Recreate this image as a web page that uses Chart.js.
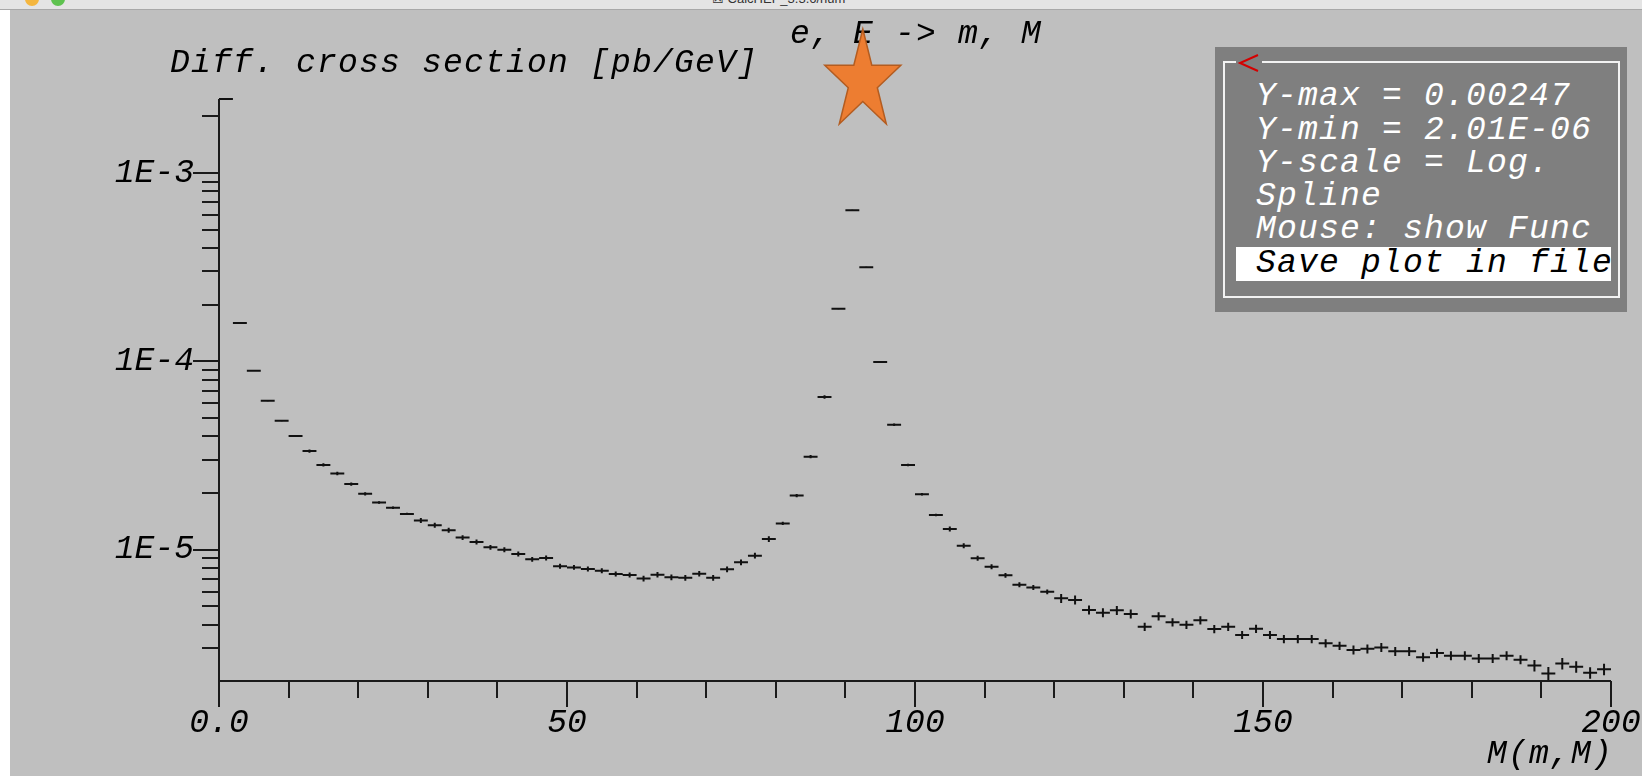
<!DOCTYPE html>
<html>
<head>
<meta charset="utf-8">
<script src="https://cdn.jsdelivr.net/npm/chart.js@4.4.1/dist/chart.umd.min.js"></script>
<style>
  body { margin:0; width:1642px; height:776px; overflow:hidden; background:#fff; position:relative; }
  #fond { position:absolute; left:10px; top:10px; width:1632px; height:766px; background:#bfbfbf; }
  #barre { position:absolute; left:0; top:0; width:1642px; height:9px; background:#e4e4e4; border-bottom:1px solid #a8a8a8; overflow:hidden; }
  .feu { position:absolute; top:-8px; width:14px; height:14px; border-radius:50%; }
  #titreFenetre { position:absolute; left:712px; top:-9px; font:13px 'Liberation Sans', sans-serif; color:#333; white-space:nowrap; }
  canvas { position:absolute; left:0; top:0; }
  #menu { position:absolute; left:1215px; top:47px; width:412px; height:265px; background:#7f7f7f; }
  #cadre { position:absolute; left:1223px; top:61px; width:397px; height:237px; border:2px solid #f2f2f2; box-sizing:border-box; }
  #surbrillance { position:absolute; left:1236px; top:247px; width:375px; height:34px; background:#fff; }
  .ligne { position:absolute; left:1256px; height:34px; line-height:34px; font-family:'Liberation Mono', monospace; font-style:italic; font-size:33px; letter-spacing:1.2px; color:#fff; white-space:nowrap; }
  #retour { position:absolute; left:1234px; top:52px; }
</style>
</head>
<body>
<div id="fond"></div>
<div id="barre">
  <div class="feu" style="left:25px;background:#f4b63f"></div>
  <div class="feu" style="left:51px;background:#5ec24f"></div>
  <div id="titreFenetre">&#9746; CalcHEP_3.3.6/num</div>
</div>
<canvas id="myChart" width="1642" height="776"></canvas>
<div id="menu"></div>
<div id="cadre"></div>
<svg id="retour" width="30" height="22">
  <rect x="2" y="7" width="26" height="6" fill="#7f7f7f"/>
  <polyline points="24,3 6,11 24,19" fill="none" stroke="#d40000" stroke-width="2"/>
</svg>
<div id="surbrillance"></div>
<div id="lignesMenu"></div>

<script>
// bins de 2 GeV entre 0 et 200
const masseMin = 0;
const masseMax = 200;
const largeurBin = 2;

// section efficace differentielle [pb/GeV], un point par bin
const sectionEff = [
  2.47e-3, 1.60e-4, 8.92e-5, 6.18e-5, 4.84e-5, 4.02e-5, 3.34e-5, 2.82e-5, 2.54e-5, 2.23e-5,
  1.98e-5, 1.78e-5, 1.67e-5, 1.55e-5, 1.43e-5, 1.35e-5, 1.27e-5, 1.16e-5, 1.10e-5, 1.03e-5,
  1.00e-5, 9.49e-6, 8.89e-6, 9.04e-6, 8.17e-6, 8.06e-6, 7.90e-6, 7.74e-6, 7.43e-6, 7.34e-6,
  7.03e-6, 7.37e-6, 7.14e-6, 7.10e-6, 7.46e-6, 7.10e-6, 7.87e-6, 8.57e-6, 9.30e-6, 1.14e-5,
  1.38e-5, 1.94e-5, 3.12e-5, 6.47e-5, 1.90e-4, 6.34e-4, 3.16e-4, 9.92e-5, 4.61e-5, 2.82e-5,
  1.97e-5, 1.53e-5, 1.29e-5, 1.05e-5, 9.01e-6, 8.13e-6, 7.31e-6, 6.52e-6, 6.31e-6, 5.98e-6,
  5.52e-6, 5.41e-6, 4.79e-6, 4.63e-6, 4.77e-6, 4.56e-6, 3.90e-6, 4.43e-6, 4.12e-6, 4.00e-6,
  4.22e-6, 3.79e-6, 3.90e-6, 3.53e-6, 3.81e-6, 3.53e-6, 3.36e-6, 3.36e-6, 3.36e-6, 3.19e-6,
  3.09e-6, 2.94e-6, 2.98e-6, 3.03e-6, 2.89e-6, 2.89e-6, 2.69e-6, 2.83e-6, 2.74e-6, 2.74e-6,
  2.65e-6, 2.65e-6, 2.74e-6, 2.61e-6, 2.43e-6, 2.20e-6, 2.49e-6, 2.39e-6, 2.22e-6, 2.32e-6
];

// erreur relative (demi-barre) de chaque bin
const erreurRel = [
  0.005, 0.005, 0.005, 0.005, 0.005, 0.005, 0.02, 0.02, 0.02, 0.02,
  0.02, 0.015, 0.015, 0.015, 0.03, 0.03, 0.03, 0.03, 0.03, 0.03,
  0.03, 0.03, 0.03, 0.03, 0.03, 0.03, 0.03, 0.03, 0.03, 0.03,
  0.035, 0.035, 0.035, 0.035, 0.035, 0.035, 0.035, 0.035, 0.035, 0.035,
  0.02, 0.02, 0.02, 0.02, 0.005, 0.005, 0.005, 0.005, 0.015, 0.015,
  0.015, 0.015, 0.03, 0.03, 0.03, 0.03, 0.03, 0.03, 0.03, 0.03,
  0.055, 0.055, 0.055, 0.055, 0.055, 0.055, 0.05, 0.05, 0.05, 0.05,
  0.05, 0.05, 0.05, 0.05, 0.05, 0.05, 0.05, 0.05, 0.05, 0.05,
  0.05, 0.055, 0.055, 0.055, 0.055, 0.055, 0.055, 0.055, 0.055, 0.055,
  0.055, 0.055, 0.055, 0.055, 0.07, 0.085, 0.07, 0.07, 0.07, 0.07
];

const yMin = 2.01e-6;
const yMax = 0.00247;

// graduations
const xTickValues = [0, 50, 100, 150, 200];
const xTickLabels = ['0.0', '50', '100', '150', '200'];
const yMajorValues = [1e-5, 1e-4, 1e-3];
const yMajorLabels = ['1E-5', '1E-4', '1E-3'];

const titreY = 'Diff. cross section [pb/GeV]';
const titreProcessus = 'e, E -> m, M';
const titreX = 'M(m,M)';

const lignesMenu = ['Y-max = 0.00247', 'Y-min = 2.01E-06', 'Y-scale = Log.', 'Spline', 'Mouse: show Func', 'Save plot in file'];

// menu en texte HTML
const centresMenu = [97, 131, 164, 197, 230, 264];
lignesMenu.forEach((t, i) => {
  const d = document.createElement('div');
  d.className = 'ligne';
  d.style.top = (centresMenu[i] - 17) + 'px';
  if (i === lignesMenu.length - 1) d.style.color = '#000';
  d.textContent = t;
  document.getElementById('lignesMenu').appendChild(d);
});

// segments horizontaux (un par bin) et barres d'erreur
const segments = [];
const barres = [];
sectionEff.forEach((v, i) => {
  const x0 = masseMin + i * largeurBin;
  segments.push({x: x0, y: v}, {x: x0 + largeurBin, y: v}, {x: x0 + largeurBin, y: null});
  const c = x0 + largeurBin / 2;
  barres.push({x: c, y: v * (1 - erreurRel[i])}, {x: c, y: v * (1 + erreurRel[i])}, {x: c, y: null});
});

// graduations mineures 2..9 x 10^k dans la plage
const yTicks = [];
for (let k = -6; k <= -3; k++) {
  for (let m = 1; m <= 9; m++) {
    const v = m * Math.pow(10, k);
    if (v >= yMin && v <= yMax) yTicks.push(v);
  }
}

const police = "'Liberation Mono', monospace";

const dessinAxes = {
  id: 'dessinAxes',
  afterDatasetsDraw(chart) {
    const ctx = chart.ctx;
    const a = chart.chartArea;
    const xs = chart.scales.x;
    const ys = chart.scales.y;
    ctx.save();
    ctx.strokeStyle = '#1a1a1a';
    ctx.lineWidth = 2;
    ctx.beginPath();
    ctx.moveTo(a.left, a.top);
    ctx.lineTo(a.left, a.bottom);
    ctx.moveTo(a.left, a.bottom);
    ctx.lineTo(a.right, a.bottom);
    xs.ticks.forEach(t => {
      const px = Math.round(xs.getPixelForValue(t.value));
      const len = xTickValues.includes(t.value) ? 26 : 17;
      ctx.moveTo(px, a.bottom);
      ctx.lineTo(px, a.bottom + len);
    });
    ys.ticks.forEach(t => {
      const py = Math.round(ys.getPixelForValue(t.value));
      const len = t.major ? 26 : 17;
      ctx.moveTo(a.left - len, py);
      ctx.lineTo(a.left, py);
    });
    ctx.stroke();
    ctx.restore();
  },
  afterDraw(chart) {
    const ctx = chart.ctx;
    ctx.save();
    ctx.fillStyle = '#000';
    ctx.font = 'italic 33px ' + police;
    ctx.letterSpacing = '1.2px';
    ctx.textBaseline = 'middle';
    ctx.textAlign = 'left';
    ctx.fillText(titreY, 170, 63);
    ctx.fillText(titreProcessus, 790, 34);
    ctx.textAlign = 'right';
    ctx.fillText(titreX, 1613, 754);

    // etoile orange
    const cx = 862.8, cy = 81.5, rx = 40, ry = 52.5, ratio = 0.382;
    ctx.beginPath();
    for (let i = 0; i < 10; i++) {
      const ang = -Math.PI / 2 + i * Math.PI / 5;
      const f = i % 2 === 0 ? 1 : ratio;
      const px = cx + rx * f * Math.cos(ang);
      const py = cy + ry * f * Math.sin(ang);
      if (i === 0) ctx.moveTo(px, py); else ctx.lineTo(px, py);
    }
    ctx.closePath();
    ctx.fillStyle = '#ed7d31';
    ctx.fill();
    ctx.strokeStyle = '#b35c20';
    ctx.lineWidth = 1.5;
    ctx.stroke();
    ctx.restore();
  }
};

const ctx = document.getElementById('myChart').getContext('2d');
const myChart = new Chart(ctx, {
  type: 'line',
  data: {
    datasets: [{
      data: segments,
      borderColor: '#111',
      borderWidth: 2,
      pointRadius: 0,
      spanGaps: false,
      clip: false
    }, {
      data: barres,
      borderColor: '#111',
      borderWidth: 2,
      pointRadius: 0,
      spanGaps: false,
      clip: false
    }]
  },
  options: {
    responsive: false,
    animation: false,
    devicePixelRatio: 1,
    events: [],
    layout: { padding: { top: 99, right: 31, bottom: 0, left: 0 } },
    plugins: { legend: { display: false }, tooltip: { enabled: false } },
    scales: {
      x: {
        type: 'linear',
        min: masseMin,
        max: masseMax,
        grid: { display: false, drawTicks: false },
        border: { display: false },
        afterFit: (scale) => {
          scale.height = 95;
          scale.paddingLeft = 0;
          scale.paddingRight = 0;
        },
        ticks: {
          stepSize: 10,
          autoSkip: false,
          maxRotation: 0,
          padding: 22,
          color: '#000',
          font: { family: police, size: 33, style: 'italic' },
          callback: (v) => {
            const i = xTickValues.indexOf(v);
            return i >= 0 ? xTickLabels[i] : '';
          }
        }
      },
      y: {
        type: 'logarithmic',
        min: yMin,
        max: yMax,
        grid: { display: false, drawTicks: false },
        border: { display: false },
        afterFit: (scale) => {
          scale.width = 219;
          scale.paddingTop = 0;
          scale.paddingBottom = 0;
        },
        afterBuildTicks: (scale) => {
          scale.ticks = yTicks.map(v => ({ value: v, major: yMajorValues.some(m => Math.abs(m - v) < m * 1e-6) }));
        },
        ticks: {
          autoSkip: false,
          padding: 25,
          color: '#000',
          font: { family: police, size: 33, style: 'italic' },
          callback: (v) => {
            const i = yMajorValues.findIndex(m => Math.abs(m - v) < m * 1e-6);
            return i >= 0 ? yMajorLabels[i] : '';
          }
        }
      }
    }
  },
  plugins: [dessinAxes]
});
</script>
</body>
</html>
